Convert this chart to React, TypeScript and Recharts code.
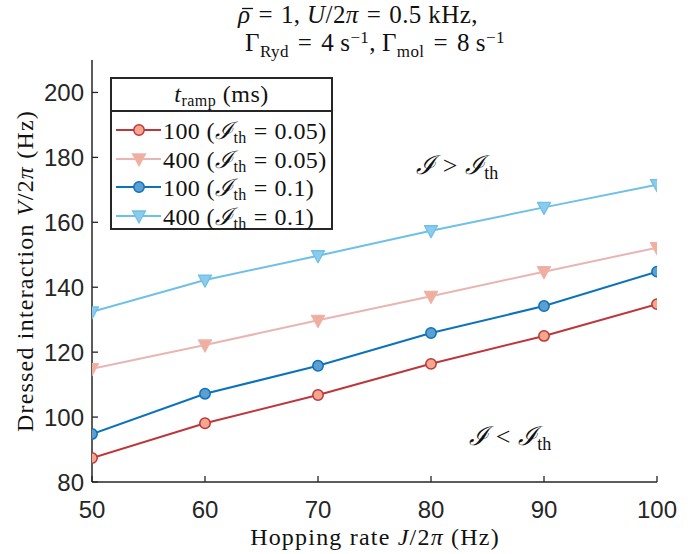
import React from 'react';
import { LineChart, Line, XAxis, YAxis, Legend } from 'recharts';

const hopping = [50, 60, 70, 80, 90, 100];
const v100_005 = [87.4, 98.1, 106.8, 116.4, 125.0, 134.8];
const v400_005 = [114.9, 122.2, 129.8, 137.2, 144.8, 152.2];
const v100_01 = [94.8, 107.2, 115.8, 125.9, 134.2, 144.8];
const v400_01 = [132.4, 142.2, 149.7, 157.4, 164.6, 171.6];
const xTicks = [50, 60, 70, 80, 90, 100];
const yTicks = [80, 100, 120, 140, 160, 180, 200];

const seriesDefs = [
  { key: 's1', values: v100_005, tr: '100', th: '0.05', line: '#bd3639', fill: '#f4a68f', edge: '#bd3639', shape: 'circle' },
  { key: 's2', values: v400_005, tr: '400', th: '0.05', line: '#e9b5b2', fill: '#f1ad9d', edge: '#edb3aa', shape: 'tri' },
  { key: 's3', values: v100_01, tr: '100', th: '0.1', line: '#0b72bc', fill: '#5d9fd0', edge: '#0b72bc', shape: 'circle' },
  { key: 's4', values: v400_01, tr: '400', th: '0.1', line: '#6dc0e7', fill: '#8ccbec', edge: '#6dc0e7', shape: 'tri' },
];

const data = hopping.map((x, i) => {
  const row: any = { x };
  seriesDefs.forEach((s) => { row[s.key] = s.values[i]; });
  return row;
});

const AX = '#262626';
const TICK_FONT = "'Liberation Sans', Arial, Helvetica, sans-serif";
const SERIF = "'Liberation Serif', 'DejaVu Serif', 'Times New Roman', serif";
const TL = 6;
const TFS = 24;

const BottomTick = (p: any) => (
  <g>
    <line x1={p.x} x2={p.x} y1={p.y} y2={p.y - TL} stroke={AX} strokeWidth={1.3} />
    <text x={p.x} y={p.y + 36} textAnchor="middle" fontSize={TFS} fill={AX} fontFamily={TICK_FONT}>{p.payload.value}</text>
  </g>
);
const TopTick = (p: any) => (
  <line x1={p.x} x2={p.x} y1={p.y} y2={p.y + TL} stroke={AX} strokeWidth={1.3} />
);
const LeftTick = (p: any) => (
  <g>
    <line x1={p.x} x2={p.x + TL} y1={p.y} y2={p.y} stroke={AX} strokeWidth={1.3} />
    <text x={p.x - 8} y={p.y + 8.6} textAnchor="end" fontSize={TFS} fill={AX} fontFamily={TICK_FONT}>{p.payload.value}</text>
  </g>
);
const RightTick = (p: any) => (
  <line x1={p.x} x2={p.x - TL} y1={p.y} y2={p.y} stroke={AX} strokeWidth={1.3} />
);

const makeDot = (s: any) => (p: any) => {
  const { cx, cy, index } = p;
  if (cx == null || cy == null) return <g key={index} />;
  if (s.shape === 'circle') {
    return <circle key={index} cx={cx} cy={cy} r={5.2} fill={s.fill} stroke={s.edge} strokeWidth={1.5} />;
  }
  const w = 6.5;
  const d = `M${cx - w},${cy - 5} L${cx + w},${cy - 5} L${cx},${cy + 7} Z`;
  return <path key={index} d={d} fill={s.fill} stroke={s.edge} strokeWidth={1.3} strokeLinejoin="round" />;
};

const LegendMarker = ({ s }: any) => (
  <svg width={50} height={20} style={{ display: 'block', flex: 'none' }}>
    <line x1={4} x2={49} y1={10} y2={10} stroke={s.line} strokeWidth={2} />
    {s.shape === 'circle' ? (
      <circle cx={27} cy={10} r={5.2} fill={s.fill} stroke={s.edge} strokeWidth={1.5} />
    ) : (
      <path d={`M${27 - 6.5},${5} L${27 + 6.5},${5} L27,17 Z`} fill={s.fill} stroke={s.edge} strokeWidth={1.3} />
    )}
  </svg>
);

const eq = <span style={{ margin: '0 7px' }}>=</span>;

const LegendBox = () => (
  <div style={{ width: 223, height: 153, boxSizing: 'border-box', border: `2px solid ${AX}`, background: '#fff', fontFamily: SERIF, color: '#111' }}>
    <div style={{ height: 31, borderBottom: `2px solid ${AX}`, textAlign: 'center', fontSize: 24, lineHeight: '30px', letterSpacing: 0.5 }}>
      <i>t</i><sub style={{ fontSize: 16, verticalAlign: '-4px' }}>ramp</sub>&nbsp;(ms)
    </div>
    <div style={{ paddingTop: 4 }}>
      {seriesDefs.map((s) => (
        <div key={s.key} style={{ display: 'flex', alignItems: 'center', height: 28.5, fontSize: 24, whiteSpace: 'nowrap', letterSpacing: 0.4 }}>
          <LegendMarker s={s} />
          <span style={{ marginLeft: 1 }}>
            {s.tr}&nbsp;(<i>ℐ</i><sub style={{ fontSize: 16, verticalAlign: '-4px' }}>th</sub>{eq}{s.th})
          </span>
        </div>
      ))}
    </div>
  </div>
);

export default function App() {
  return (
    <div style={{ position: 'absolute', left: 0, top: 0, width: 700, height: 554, background: '#fff' }}>
      <LineChart width={700} height={554} data={data} margin={{ top: 60, right: 43, bottom: 42, left: 32 }}>
        <XAxis dataKey="x" type="number" domain={[50, 100]} ticks={xTicks} allowDataOverflow
          tickSize={0} tickMargin={0} tickLine={false} tick={<BottomTick />} height={30}
          axisLine={{ stroke: AX, strokeWidth: 1.5 }} />
        <XAxis xAxisId="top" orientation="top" dataKey="x" type="number" domain={[50, 100]} ticks={xTicks} allowDataOverflow
          tickSize={0} tickMargin={0} tickLine={false} tick={<TopTick />} height={0}
          axisLine={{ stroke: AX, strokeWidth: 1.5 }} />
        <YAxis type="number" domain={[80, 210]} ticks={yTicks} allowDataOverflow width={60}
          tickSize={0} tickMargin={0} tickLine={false} tick={<LeftTick />}
          axisLine={{ stroke: AX, strokeWidth: 1.5 }} />
        <YAxis yAxisId="r" orientation="right" type="number" domain={[80, 210]} ticks={yTicks} allowDataOverflow width={0}
          tickSize={0} tickMargin={0} tickLine={false} tick={<RightTick />}
          axisLine={{ stroke: AX, strokeWidth: 1.5 }} />
        {seriesDefs.map((s) => (
          <Line key={s.key} dataKey={s.key} type="linear" stroke={s.line} strokeWidth={2}
            dot={makeDot(s)} activeDot={false} isAnimationActive={false} legendType="none" />
        ))}
        <Legend layout="horizontal" verticalAlign="middle" align="center" content={<LegendBox />}
          wrapperStyle={{ position: 'absolute', left: 110, top: 77, width: 223, height: 153 }} />
      </LineChart>
      <svg width={700} height={554} style={{ position: 'absolute', left: 0, top: 0, pointerEvents: 'none' }} fontFamily={SERIF} fill="#111">
        <line x1={242} x2={253} y1={8.5} y2={8.5} stroke="#111" strokeWidth={1.3} />
        <text x={238} y={23} textAnchor="start" fontSize={25} letterSpacing={0.4}>
          <tspan fontStyle="italic">ρ</tspan><tspan dx={8}>=</tspan><tspan dx={8}>1, </tspan><tspan fontStyle="italic">U</tspan>/2<tspan fontStyle="italic">π</tspan><tspan dx={8}>=</tspan><tspan dx={8}>0.5 kHz,</tspan>
        </text>
        <text x={375} y={51} textAnchor="middle" fontSize={25} letterSpacing={0.4}>
          Γ<tspan fontSize={17} dy={6}>Ryd</tspan><tspan dy={-6} dx={9}>=</tspan><tspan dx={9}>4</tspan><tspan dx={6}>s</tspan><tspan fontSize={17} dy={-8}>−1</tspan><tspan dy={8}>,</tspan><tspan dx={6}>Γ</tspan><tspan fontSize={17} dy={6}>mol</tspan><tspan dy={-6} dx={9}>=</tspan><tspan dx={9}>8</tspan><tspan dx={6}>s</tspan><tspan fontSize={17} dy={-8}>−1</tspan>
        </text>
        <text x={457} y={174} textAnchor="middle" fontSize={26}>
          <tspan fontStyle="italic">ℐ</tspan><tspan dx={8}>&gt;</tspan><tspan dx={8} fontStyle="italic">ℐ</tspan><tspan fontSize={18} dy={5}>th</tspan>
        </text>
        <text x={510} y={445} textAnchor="middle" fontSize={26}>
          <tspan fontStyle="italic">ℐ</tspan><tspan dx={8}>&lt;</tspan><tspan dx={8} fontStyle="italic">ℐ</tspan><tspan fontSize={18} dy={5}>th</tspan>
        </text>
        <text x={375} y={545} textAnchor="middle" fontSize={24} letterSpacing={1.2}>
          Hopping rate <tspan fontStyle="italic">J</tspan>/2<tspan fontStyle="italic">π</tspan> (Hz)
        </text>
        <text x={0} y={0} textAnchor="middle" fontSize={24} letterSpacing={1.2} transform="translate(33,271) rotate(-90)">
          Dressed interaction <tspan fontStyle="italic">V</tspan>/2<tspan fontStyle="italic">π</tspan> (Hz)
        </text>
      </svg>
    </div>
  );
}
